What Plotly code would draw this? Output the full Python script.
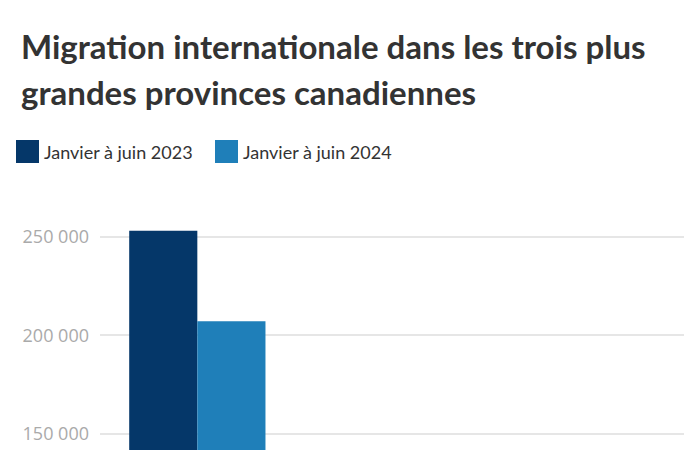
import plotly.graph_objects as go

provinces = ["Ontario", "Québec", "Colombie-Britannique"]
series_names = ["Janvier à juin 2023", "Janvier à juin 2024"]
values_2023 = [253000, 118000, 104000]
values_2024 = [207200, 116000, 88000]
colors = ["#053769", "#1f7fb9"]
y_ticks = [150000, 200000, 250000]
title_lines = ["Migration internationale dans les trois plus",
               "grandes provinces canadiennes"]

# figure-pixel helpers (plot area: x 92..676, y 192..450)
L, R, T, B, H = 92, 676, 192, 450, 450
def px(fx):
    return (fx - L) / (R - L)
def py(fy):
    return (B - fy) / (B - T)

fig = go.Figure()
for name, vals, col in zip(series_names, [values_2023, values_2024], colors):
    fig.add_trace(go.Bar(x=provinces, y=vals, name=name, marker_color=col,
                         marker_line_width=0, showlegend=False))

# Title lines
for line, cy in zip(title_lines, [38, 84]):
    fig.add_annotation(text=line, xref="paper", yref="paper",
                       x=px(11), y=py(cy), xanchor="left", yanchor="middle",
                       showarrow=False,
                       font=dict(family="Lato", size=33, color="#333333", weight=700))

# Custom legend (squares + text)
legend_x = [8, 207]
for x0, name, col in zip(legend_x, series_names, colors):
    fig.add_shape(type="rect", xref="paper", yref="paper",
                  x0=px(x0), x1=px(x0 + 23), y0=py(155), y1=py(132),
                  fillcolor=col, line_width=0)
    fig.add_annotation(text=name, xref="paper", yref="paper",
                       x=px(x0 + 26), y=py(143.5),
                       xanchor="left", yanchor="middle", showarrow=False,
                       font=dict(family="Lato", size=18, color="#333333"))

fig.update_layout(
    width=700, height=H,
    template="none",
    barmode="group", bargap=0.3, bargroupgap=0,
    separators=", ",
    paper_bgcolor="white", plot_bgcolor="white",
    margin=dict(l=L, r=700 - R, t=T, b=H - B),
    xaxis=dict(showgrid=False, showline=False, ticks="", automargin=False,
               showticklabels=False),
    yaxis=dict(range=[137836, 268600], tickvals=y_ticks, tickformat=",d",
               showgrid=True, gridcolor="#e6e6e6", gridwidth=1.5,
               showline=False, zeroline=False, ticks="", automargin=False,
               ticklabelstandoff=10,
               tickfont=dict(family="Open Sans", size=18, color="#aaaaaa")),
)

fig.write_html("out.html")
